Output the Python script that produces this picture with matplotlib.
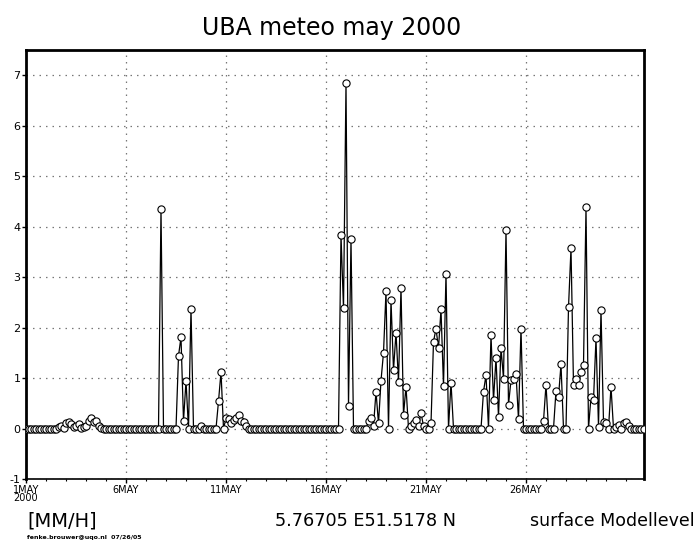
import matplotlib
matplotlib.use("Agg")
import matplotlib.pyplot as plt
import numpy as np

# 3-hourly precipitation (mm/h), 1 May 2000 00:00 .. 31 May 2000 21:00, one day per row
precip = [
    0, 0, 0, 0, 0, 0, 0, 0,
    0, 0, 0, 0, 0, 0.03, 0.05, 0.02,
    0.1, 0.12, 0.08, 0.03, 0.05, 0.08, 0.02, 0.03,
    0.05, 0.15, 0.2, 0.12, 0.15, 0.05, 0.02, 0,
    0, 0, 0, 0, 0, 0, 0, 0,
    0, 0, 0, 0, 0, 0, 0, 0,
    0, 0, 0, 0, 0, 0, 4.35, 0,
    0, 0, 0, 0, 0, 1.44, 1.81, 0.15,
    0.94, 0, 2.37, 0, 0, 0, 0.05, 0,
    0, 0, 0, 0, 0, 0.54, 1.12, 0,
    0.2, 0.18, 0.1, 0.17, 0.2, 0.27, 0.15, 0.13,
    0.05, 0, 0, 0, 0, 0, 0, 0,
    0, 0, 0, 0, 0, 0, 0, 0,
    0, 0, 0, 0, 0, 0, 0, 0,
    0, 0, 0, 0, 0, 0, 0, 0,
    0, 0, 0, 0, 0, 0, 3.83, 2.38,
    6.85, 0.45, 3.75, 0, 0, 0, 0, 0,
    0, 0.15, 0.2, 0.05, 0.73, 0.1, 0.95, 1.5,
    2.72, 0, 2.54, 1.16, 1.9, 0.93, 2.79, 0.27,
    0.83, 0, 0.05, 0.1, 0.17, 0.05, 0.31, 0.05,
    0, 0, 0.1, 1.72, 1.98, 1.59, 2.36, 0.84,
    3.07, 0, 0.91, 0, 0, 0, 0, 0,
    0, 0, 0, 0, 0, 0, 0, 0.73,
    1.06, 0, 1.85, 0.56, 1.4, 0.23, 1.6, 0.99,
    3.93, 0.47, 0.96, 0.99, 1.09, 0.18, 1.98, 0,
    0, 0, 0, 0, 0, 0, 0, 0.15,
    0.87, 0, 0, 0, 0.75, 0.63, 1.27, 0,
    0, 2.4, 3.57, 0.86, 0.99, 0.86, 1.12, 1.26,
    4.38, 0, 0.63, 0.56, 1.79, 0.04, 2.35, 0.13,
    0.1, 0, 0.83, 0, 0.03, 0.07, 0, 0.1,
    0.13, 0.05, 0, 0, 0, 0, 0, 0,
]
steps_per_day = 8
tick_days = [0, 5, 10, 15, 20, 25]
tick_labels = ["1MAY\n2000", "6MAY", "11MAY", "16MAY", "21MAY", "26MAY"]
y_ticks = [-1, 0, 1, 2, 3, 4, 5, 6, 7]

title = "UBA meteo may 2000"
unit_text = "[MM/H]"
loc_text = "5.76705 E51.5178 N"
level_text = "surface Modellevel"
credit_text = "fenke.brouwer@uqo.nl  07/26/05"

t = np.arange(len(precip)) / steps_per_day

fig = plt.figure(figsize=(6.99, 5.44), dpi=100)
ax = fig.add_axes([26/699, 65/544, (643.5-26)/699, (479-50)/544])

ax.plot(t, precip, color="black", lw=0.9, marker="o", markersize=5.2,
        markerfacecolor="white", markeredgecolor="black", markeredgewidth=0.8,
        zorder=3)

ax.set_xlim(0, t[-1])
ax.set_ylim(-1, 7.5)
ax.set_xticks(tick_days)
ax.set_xticklabels(tick_labels, fontsize=7, linespacing=0.85)
ax.set_xticks(np.arange(0, 31, 1), minor=True)
ax.set_yticks(y_ticks)
ax.set_yticklabels([str(v) for v in y_ticks], fontsize=8)

ax.grid(True, which="major", color="#777777", linestyle=(0, (1.2, 4)), linewidth=0.9)
ax.tick_params(axis="both", which="major", direction="out", length=3, width=1, pad=1)
ax.tick_params(axis="x", which="minor", direction="out", length=1.5, width=0.8)
for s in ax.spines.values():
    s.set_linewidth(2)
ax.spines["bottom"].set_linewidth(1.2)

fig.text(332/699, 1 - 28/544, title, ha="center", va="center", fontsize=17)
fig.text(27/699, 1 - 521/544, unit_text, ha="left", va="center", fontsize=14)
fig.text(275/699, 1 - 521/544, loc_text, ha="left", va="center", fontsize=12.7)
fig.text(530/699, 1 - 521/544, level_text, ha="left", va="center", fontsize=12.5)
fig.text(27/699, 1 - 538/544, credit_text, ha="left", va="center", fontsize=4.5,
         fontweight="bold")

fig.savefig("out.png", dpi=100)
